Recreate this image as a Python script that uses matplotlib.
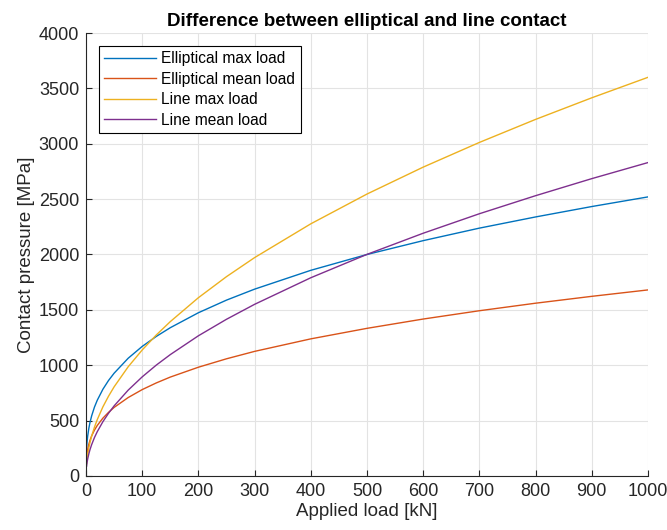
import matplotlib
matplotlib.use('Agg')
import matplotlib.pyplot as plt

# Applied load [kN] and contact pressure [MPa]
load_kN = [1, 2, 3, 5, 7, 10, 15, 20, 30, 40, 50, 75, 100, 125, 150, 200, 250, 300,
           400, 500, 600, 700, 800, 900, 1000]
ell_max = [252, 317, 363, 431, 482, 543, 622, 684, 783, 862, 928, 1063, 1170, 1260, 1339,
           1474, 1588, 1687, 1857, 2000, 2125, 2238, 2339, 2433, 2520]
ell_mean = [168, 212, 242, 287, 321, 362, 414, 456, 522, 574, 619, 708, 780, 840, 893,
            982, 1058, 1125, 1238, 1333, 1417, 1492, 1560, 1622, 1680]
line_max = [114, 161, 197, 255, 301, 360, 441, 509, 624, 720, 805, 986, 1138, 1273, 1394,
            1610, 1800, 1972, 2277, 2546, 2789, 3012, 3220, 3415, 3600]
line_mean = [89, 127, 155, 200, 237, 283, 347, 400, 490, 566, 633, 775, 895, 1001, 1096,
             1266, 1415, 1550, 1790, 2001, 2192, 2368, 2531, 2685, 2830]

labels = ['Elliptical max load', 'Elliptical mean load', 'Line max load', 'Line mean load']
colors = ['#0072BD', '#D95319', '#EDB120', '#7E2F8E']

plt.rcParams['font.family'] = ['Liberation Sans', 'DejaVu Sans']

fig = plt.figure(figsize=(6.67, 5.3), dpi=100)
ax = fig.add_axes([0.129, 0.102, 0.8425, 0.8357])

for y, lab, c in zip([ell_max, ell_mean, line_max, line_mean], labels, colors):
    ax.plot(load_kN, y, color=c, lw=1.0, label=lab)

ax.set_xlim(0, 1000)
ax.set_ylim(0, 4000)
ax.set_xticks(range(0, 1001, 100))
ax.set_yticks(range(0, 4001, 500))
ax.grid(True, color='#e3e3e3', lw=0.8)
ax.set_axisbelow(True)

for s in ['top', 'right']:
    ax.spines[s].set_visible(False)
for s in ['left', 'bottom']:
    ax.spines[s].set_color('#262626')
    ax.spines[s].set_linewidth(0.8)
ax.tick_params(direction='in', length=4, width=0.8, colors='#262626',
               labelsize=13, labelcolor='#262626', pad=5)

ax.set_xlabel('Applied load [kN]', fontsize=13.5, color='#262626', labelpad=2)
ax.set_ylabel('Contact pressure [MPa]', fontsize=13.5, color='#262626', labelpad=3)
ax.set_title('Difference between elliptical and line contact', fontsize=13.5,
             fontweight='bold', pad=5)

leg = ax.legend(loc='upper left', bbox_to_anchor=(0.023, 0.971), fontsize=11.2,
                frameon=True, fancybox=False, edgecolor='black', framealpha=1,
                handlelength=3.3, borderpad=0.35, labelspacing=0.35, handletextpad=0.35,
                borderaxespad=0)
leg.get_frame().set_linewidth(0.8)

fig.savefig('out.png', dpi=100)
